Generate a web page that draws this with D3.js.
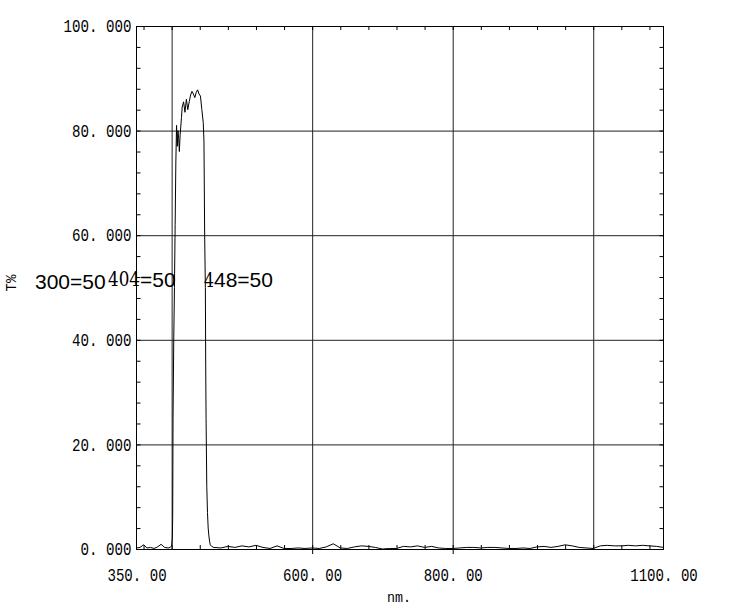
<!DOCTYPE html>
<html lang="en">
<head>
<meta charset="UTF-8">
<title>T% spectrum</title>
<script src="https://d3js.org/d3.v7.min.js"></script>
<style>
    body { margin: 0; background: #fff; }
    svg { display: block; }
    .mono { font-family: "Liberation Mono", monospace; font-size: 18px; fill: #000; }
</style>
</head>
<body>
<div id="chart"></div>
<script>
// wavelength in nm
const wavelength = [
    350, 355, 360, 365, 370, 375, 380, 385, 390, 395, 398, 400, 401, 401.5, 402, 403, 404, 405, 406, 407,
    408, 409, 410, 411, 412, 414, 415, 417, 419, 421, 423, 425, 427, 429, 431, 433, 435, 437, 439, 441,
    443, 445, 446, 447, 448, 448.5, 449, 450, 451, 452, 453, 454, 455, 457, 460,
    470, 480, 490, 500, 510, 520, 530, 540, 550, 560, 570, 580, 590, 600, 610, 620, 630, 640, 650, 660,
    670, 680, 690, 700, 710, 720, 730, 740, 750, 760, 770, 780, 790, 800, 810, 820, 830, 840, 850, 860,
    870, 880, 890, 900, 910, 920, 930, 940, 950, 960, 970, 980, 990, 1000, 1010, 1020, 1030, 1040, 1050,
    1060, 1070, 1080, 1090, 1100
];
// transmittance in %
const transmittance = [
    0.2, 0.3, 0.8, 0.2, 0.3, 0.1, 0.4, 0.9, 0.3, 0.2, 0.3, 0.6, 2, 6, 25, 40, 50, 62, 74, 81,
    77, 80, 78.5, 76, 79, 82.5, 84.5, 85.5, 83.5, 86, 84, 85.5, 86.8, 87.5, 87, 86.3, 87.3, 87.8, 87, 86.6,
    84, 81.5, 78, 60, 50, 35, 25, 12, 7, 4, 2.5, 1.5, 0.8, 0.5, 0.3,
    0.2, 0.5, 0.3, 0.6, 0.4, 0.7, 0.3, 0.1, 0.6, 0.1, 0.1, 0.2, 0.1, 0.2, 0.1, 0.4, 1.0, 0.2, 0.1, 0.4,
    0.6, 0.5, 0.3, 0.0, 0.1, 0.1, 0.5, 0.4, 0.6, 0.3, 0.5, 0.2, 0.1, 0.1, 0.2, 0.3, 0.3, 0.2, 0.3, 0.3,
    0.2, 0.1, 0.1, 0.2, 0.1, 0.4, 0.5, 0.3, 0.5, 0.8, 0.6, 0.3, 0.2, 0.1, 0.6, 0.7, 0.6, 0.6, 0.7,
    0.6, 0.7, 0.6, 0.5, 0.3
];

const yLabelTicks = [0, 20, 40, 60, 80, 100];
const yGridTicks = [20, 40, 60, 80];
const yMinorTicks = d3.range(4, 100, 4);
const xLabelTicks = [350, 600, 800, 1100];
const xGridTicks = [400, 600, 800, 1000];
const xOuterTicks = [600, 800];
const xMinorTicks = d3.range(360, 1081, 40);

const width = 750, height = 607;
const plotLeft = 136.5, plotRight = 663.5, plotTop = 26, plotBottom = 549;

const svg = d3.select("#chart").append("svg")
    .attr("width", width)
    .attr("height", height);

const x = d3.scaleLinear().domain([350, 1100]).range([plotLeft, plotRight]);
const y = d3.scaleLinear().domain([0, 100]).range([plotBottom, plotTop]);

const fmtY = d => d3.format(".3f")(d).replace(".", ". ");
const fmtX = d => d3.format(".2f")(d).replace(".", ". ");

// gridlines
svg.append("g")
    .attr("transform", `translate(0,${plotBottom})`)
    .call(d3.axisBottom(x).tickValues(xGridTicks).tickSize(-(plotBottom - plotTop)).tickFormat(""))
    .call(g => g.select(".domain").remove())
    .selectAll("line").attr("stroke", "#222");

svg.append("g")
    .attr("transform", `translate(${plotLeft},0)`)
    .call(d3.axisLeft(y).tickValues(yGridTicks).tickSize(-(plotRight - plotLeft)).tickFormat(""))
    .call(g => g.select(".domain").remove())
    .selectAll("line").attr("stroke", "#222");

// minor ticks, inward on all four sides
svg.append("g")
    .attr("transform", `translate(0,${plotBottom})`)
    .call(d3.axisBottom(x).tickValues(xMinorTicks).tickSize(-4).tickFormat(""))
    .call(g => g.select(".domain").remove());
svg.append("g")
    .attr("transform", `translate(0,${plotTop})`)
    .call(d3.axisTop(x).tickValues(xMinorTicks).tickSize(-4).tickFormat(""))
    .call(g => g.select(".domain").remove());
svg.append("g")
    .attr("transform", `translate(${plotLeft},0)`)
    .call(d3.axisLeft(y).tickValues(yMinorTicks).tickSize(-4).tickFormat(""))
    .call(g => g.select(".domain").remove());
svg.append("g")
    .attr("transform", `translate(${plotRight},0)`)
    .call(d3.axisRight(y).tickValues(yMinorTicks).tickSize(-4).tickFormat(""))
    .call(g => g.select(".domain").remove());

// short outward ticks under 600 and 800
svg.append("g")
    .attr("transform", `translate(0,${plotBottom})`)
    .call(d3.axisBottom(x).tickValues(xOuterTicks).tickSize(5).tickFormat(""))
    .call(g => g.select(".domain").remove());

// tick labels
const yAxis = svg.append("g")
    .attr("transform", `translate(${plotLeft},0)`)
    .call(d3.axisLeft(y).tickValues(yLabelTicks).tickSize(0).tickPadding(5).tickFormat(fmtY))
    .call(g => g.select(".domain").remove());
yAxis.selectAll("text").attr("class", "mono")
    .attr("textLength", function () { return this.textContent.length * 8.5; })
    .attr("lengthAdjust", "spacingAndGlyphs");

const xAxis = svg.append("g")
    .attr("transform", `translate(0,${plotBottom})`)
    .call(d3.axisBottom(x).tickValues(xLabelTicks).tickSize(0).tickPadding(19).tickFormat(fmtX))
    .call(g => g.select(".domain").remove());
xAxis.selectAll("text").attr("class", "mono")
    .attr("textLength", function () { return this.textContent.length * 8.45; })
    .attr("lengthAdjust", "spacingAndGlyphs");
svg.selectAll("g").attr("font-family", null).attr("font-size", null);

// frame
svg.append("rect")
    .attr("x", plotLeft).attr("y", plotTop + 0.5)
    .attr("width", plotRight - plotLeft).attr("height", plotBottom - plotTop)
    .attr("fill", "none")
    .attr("stroke", "#000");

// spectrum
const line = d3.line()
    .x((d, i) => x(wavelength[i]))
    .y(d => y(d));

svg.append("path")
    .datum(transmittance)
    .attr("fill", "none")
    .attr("stroke", "#000")
    .attr("stroke-width", 1)
    .attr("d", line);

// axis titles
svg.append("text")
    .attr("class", "mono")
    .attr("transform", "translate(16,283) rotate(-90)")
    .attr("text-anchor", "middle")
    .style("font-size", "14px")
    .text("T%");

svg.append("text")
    .attr("class", "mono")
    .attr("x", 399).attr("y", 602)
    .attr("text-anchor", "middle")
    .attr("textLength", 24)
    .attr("lengthAdjust", "spacingAndGlyphs")
    .style("font-size", "15px")
    .text("nm.");

// 50% markers
const sans = "Liberation Sans, Arial, sans-serif";
const serif = "DejaVu Serif, serif";

svg.append("text")
    .attr("x", 35).attr("y", 289)
    .attr("font-family", sans).attr("font-size", 21)
    .text("300=50");

const t404 = svg.append("text").attr("x", 108).attr("y", 286).attr("font-size", 21);
t404.append("tspan").attr("font-family", serif).attr("font-size", 20)
    .attr("textLength", 32).attr("lengthAdjust", "spacingAndGlyphs").text("404");
t404.append("tspan").attr("dy", 1).attr("font-family", sans).text("=50");

const t448 = svg.append("text").attr("x", 204).attr("y", 287).attr("font-size", 21);
t448.append("tspan").attr("font-family", serif).attr("font-size", 20)
    .attr("textLength", 10).attr("lengthAdjust", "spacingAndGlyphs").text("4");
t448.append("tspan").attr("font-family", sans).text("48=50");
</script>
</body>
</html>
